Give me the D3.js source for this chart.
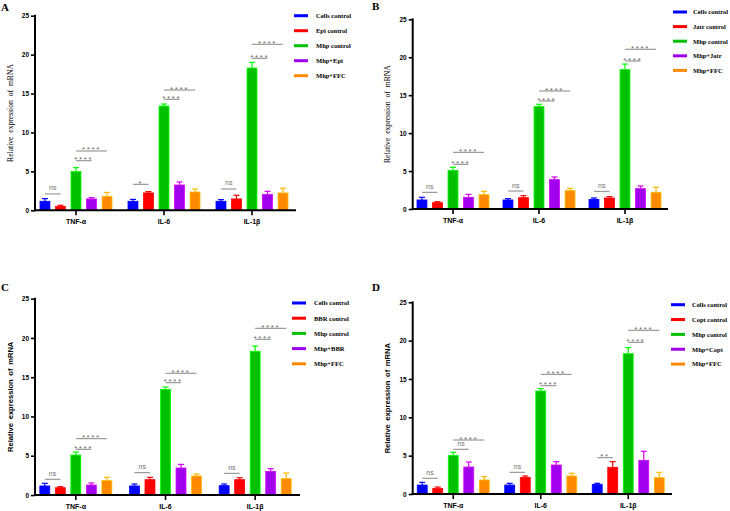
<!DOCTYPE html>
<html>
<head>
<meta charset="utf-8">
<script src="https://cdn.jsdelivr.net/npm/d3@7"></script>
<style>
  body { margin: 0; background: #fff; }
  svg { display: block; }
</style>
</head>
<body>
<svg id="chart" width="730" height="511"></svg>
<script>
// Shared categories and colours
const categories = ['TNF-α', 'IL-6', 'IL-1β'];
const colors = ['#0000ff', '#ff0000', '#00c000', '#a000ee', '#ff8a00'];
const yTicks = [0, 5, 10, 15, 20, 25];

// Panel A - Epi
const seriesA = ['Cells control', 'Epi control', 'Mhp control', 'Mhp+Epi', 'Mhp+FFC'];
const meansA = [[1.16, 0.50, 5.00, 1.46, 1.80], [1.16, 2.23, 13.40, 3.25, 2.35], [1.16, 1.46, 18.28, 2.05, 2.23]];
const errsA = [[0.34, 0.14, 0.48, 0.17, 0.50], [0.24, 0.17, 0.25, 0.39, 0.39], [0.21, 0.47, 0.72, 0.39, 0.60]];
const sigA = [
    { cat: 0, from: 0, to: 1, y: 2.1, label: 'ns' },
    { cat: 0, from: 2, to: 3, y: 6.37, label: '****' },
    { cat: 0, from: 2, to: 4, y: 7.62, label: '****' },
    { cat: 1, from: 0, to: 1, y: 3.34, label: '*' },
    { cat: 1, from: 2, to: 3, y: 14.26, label: '****' },
    { cat: 1, from: 2, to: 4, y: 15.45, label: '****' },
    { cat: 2, from: 0, to: 1, y: 2.74, label: 'ns' },
    { cat: 2, from: 2, to: 3, y: 19.53, label: '****' },
    { cat: 2, from: 2, to: 4, y: 21.33, label: '****' }
];

// Panel B - Jatr
const seriesB = ['Cells control', 'Jatr control', 'Mhp control', 'Mhp+Jatr', 'Mhp+FFC'];
const meansB = [[1.19, 0.83, 5.10, 1.54, 1.89], [1.19, 1.49, 13.49, 3.87, 2.42], [1.27, 1.45, 18.37, 2.68, 2.20]];
const errsB = [[0.35, 0.14, 0.39, 0.39, 0.44], [0.17, 0.27, 0.31, 0.35, 0.30], [0.18, 0.18, 0.73, 0.35, 0.66]];
const sigB = [
    { cat: 0, from: 0, to: 1, y: 2.2, label: 'ns' },
    { cat: 0, from: 2, to: 3, y: 5.89, label: '****' },
    { cat: 0, from: 2, to: 4, y: 7.47, label: '****' },
    { cat: 1, from: 0, to: 1, y: 2.37, label: 'ns' },
    { cat: 1, from: 2, to: 3, y: 14.23, label: '****' },
    { cat: 1, from: 2, to: 4, y: 15.55, label: '****' },
    { cat: 2, from: 0, to: 1, y: 2.33, label: 'ns' },
    { cat: 2, from: 2, to: 3, y: 19.5, label: '****' },
    { cat: 2, from: 2, to: 4, y: 21.05, label: '****' }
];

// Panel C - BBR
const seriesC = ['Cells control', 'BBR control', 'Mhp control', 'Mhp+BBR', 'Mhp+FFC'];
const meansC = [[1.15, 0.93, 5.09, 1.27, 1.83], [1.15, 1.95, 13.45, 3.44, 2.42], [1.19, 1.95, 18.30, 3.01, 2.08]];
const errsC = [[0.34, 0.13, 0.39, 0.26, 0.42], [0.25, 0.30, 0.30, 0.46, 0.25], [0.21, 0.25, 0.67, 0.34, 0.72]];
const sigC = [
    { cat: 0, from: 0, to: 1, y: 2.0, label: 'ns' },
    { cat: 0, from: 2, to: 3, y: 5.82, label: '****' },
    { cat: 0, from: 2, to: 4, y: 7.17, label: '****' },
    { cat: 1, from: 0, to: 1, y: 2.84, label: 'ns' },
    { cat: 1, from: 2, to: 3, y: 14.3, label: '****' },
    { cat: 1, from: 2, to: 4, y: 15.5, label: '****' },
    { cat: 2, from: 0, to: 1, y: 2.76, label: 'ns' },
    { cat: 2, from: 2, to: 3, y: 19.83, label: '****' },
    { cat: 2, from: 2, to: 4, y: 21.23, label: '****' }
];

// Panel D - Copt
const seriesD = ['Cells control', 'Copt control', 'Mhp control', 'Mhp+Copt', 'Mhp+FFC'];
const meansD = [[1.17, 0.74, 5.04, 3.52, 1.83], [1.17, 2.17, 13.43, 3.78, 2.35], [1.26, 3.48, 18.30, 4.39, 2.13]];
const errsD = [[0.35, 0.17, 0.39, 0.65, 0.43], [0.22, 0.18, 0.31, 0.44, 0.35], [0.13, 0.74, 0.79, 1.18, 0.70]];
const sigD = [
    { cat: 0, from: 0, to: 1, y: 2.05, label: 'ns' },
    { cat: 0, from: 2, to: 3, y: 5.83, label: 'ns' },
    { cat: 0, from: 2, to: 4, y: 7.04, label: '****' },
    { cat: 1, from: 0, to: 1, y: 2.83, label: 'ns' },
    { cat: 1, from: 2, to: 3, y: 14.12, label: '****' },
    { cat: 1, from: 2, to: 4, y: 15.61, label: '****' },
    { cat: 2, from: 0, to: 1, y: 4.73, label: '**' },
    { cat: 2, from: 2, to: 3, y: 19.78, label: '****' },
    { cat: 2, from: 2, to: 4, y: 21.35, label: '****' }
];

// Layout of the four panels (pixels)
const panels = [
    { letter: 'A', lx: 1, ly: 11, axisX: 35, x0: 32, x1: 296, yBottom: 210.3, yTop: 15.7,
      legX: 294, legY: 15.7, legStep: 15, legDx: 22, titleX: 13, serif: true,
      series: seriesA, means: meansA, errs: errsA, sigs: sigA },
    { letter: 'B', lx: 372, ly: 10, axisX: 412.7, x0: 410, x1: 668, yBottom: 209, yTop: 19.3,
      legX: 673, legY: 12, legStep: 14.6, legDx: 20, titleX: 390, serif: true,
      series: seriesB, means: meansB, errs: errsB, sigs: sigB },
    { letter: 'C', lx: 1, ly: 291, axisX: 35, x0: 31, x1: 300, yBottom: 495, yTop: 298.7,
      legX: 292, legY: 303, legStep: 15.2, legDx: 22, titleX: 13, serif: false,
      series: seriesC, means: meansC, errs: errsC, sigs: sigC },
    { letter: 'D', lx: 372, ly: 291, axisX: 412.7, x0: 409.5, x1: 672, yBottom: 494, yTop: 302.3,
      legX: 671, legY: 304.7, legStep: 14.85, legDx: 21, titleX: 390, serif: false,
      series: seriesD, means: meansD, errs: errsD, sigs: sigD }
];

const svg = d3.select('#chart');
const SANS = 'Liberation Sans, Arial, sans-serif';
const SERIF = 'Liberation Serif, Times New Roman, serif';

function drawPanel(p) {
    const g = svg.append('g');

    const x0 = d3.scaleBand().domain(categories).range([p.x0, p.x1]);
    const x1 = d3.scaleBand().domain(d3.range(p.series.length))
        .range([-36, 36]).paddingInner(0.36).paddingOuter(0);
    const y = d3.scaleLinear().domain([0, 25]).range([p.yBottom, p.yTop]);

    const barCenter = (c, i) =>
        x0(categories[c]) + x0.bandwidth() / 2 + x1(i) + x1.bandwidth() / 2;

    // Flatten for data join
    const rows = [];
    p.means.forEach((vals, c) => vals.forEach((v, i) =>
        rows.push({ c, i, v, e: p.errs[c][i] })));

    // Error bars (upper only)
    const capW = 6;
    const err = g.selectAll('.err').data(rows).enter().append('g')
        .attr('stroke', d => d3.color(colors[d.i]).brighter(0.8))
        .attr('stroke-width', 1.2);
    err.append('line')
        .attr('x1', d => barCenter(d.c, d.i)).attr('x2', d => barCenter(d.c, d.i))
        .attr('y1', d => y(d.v)).attr('y2', d => y(d.v + d.e));
    err.append('line')
        .attr('x1', d => barCenter(d.c, d.i) - capW / 2)
        .attr('x2', d => barCenter(d.c, d.i) + capW / 2)
        .attr('y1', d => y(d.v + d.e)).attr('y2', d => y(d.v + d.e));

    // Bars
    g.selectAll('.bar').data(rows).enter().append('rect')
        .attr('x', d => barCenter(d.c, d.i) - x1.bandwidth() / 2)
        .attr('width', x1.bandwidth())
        .attr('y', d => y(d.v))
        .attr('height', d => y(0) - y(d.v))
        .attr('fill', d => colors[d.i])
        .attr('stroke', d => d3.color(colors[d.i]).brighter(0.9))
        .attr('stroke-width', 0.8);

    // Significance brackets
    const sig = g.selectAll('.sig').data(p.sigs).enter().append('g');
    sig.append('line')
        .attr('x1', d => barCenter(d.cat, d.from))
        .attr('x2', d => barCenter(d.cat, d.to))
        .attr('y1', d => y(d.y)).attr('y2', d => y(d.y))
        .attr('stroke', '#777').attr('stroke-width', 0.9);
    sig.append('text')
        .attr('x', d => (barCenter(d.cat, d.from) + barCenter(d.cat, d.to)) / 2)
        .attr('y', d => d.label === 'ns' ? y(d.y) - 3.5 : y(d.y) + 1.5)
        .attr('text-anchor', 'middle')
        .attr('font-family', SANS)
        .attr('font-size', d => d.label === 'ns' ? 7 : 8)
        .attr('letter-spacing', d => d.label === 'ns' ? 0 : 1.6)
        .attr('fill', '#6e6e6e')
        .text(d => d.label);

    // Y axis
    const yAxis = g.append('g')
        .attr('transform', `translate(${p.axisX},0)`)
        .call(d3.axisLeft(y).tickValues(yTicks).tickSize(4).tickSizeOuter(0).tickPadding(2));
    yAxis.select('.domain').attr('stroke-width', 2)
        .attr('d', `M0,${y(25) - 1}V${y(0) + 1}`);
    yAxis.selectAll('.tick line').attr('stroke-width', 1.6);
    yAxis.selectAll('.tick text')
        .attr('font-family', SANS).attr('font-weight', 'bold')
        .attr('font-size', 6.5).attr('fill', '#000');

    // X axis
    const xAxis = g.append('g')
        .attr('transform', `translate(0,${y(0)})`)
        .call(d3.axisBottom(x0).tickSize(5).tickSizeOuter(0).tickPadding(4));
    xAxis.select('.domain').attr('stroke-width', 2)
        .attr('d', `M${p.axisX - 1},0H${p.x1}`);
    xAxis.selectAll('.tick line').attr('stroke-width', 1.6);
    xAxis.selectAll('.tick text')
        .attr('font-family', SANS).attr('font-weight', 'bold')
        .attr('font-size', 7).attr('fill', '#000');

    // Y axis title
    g.append('text')
        .attr('transform', `translate(${p.titleX},${(y(0) + y(25)) / 2}) rotate(-90)`)
        .attr('text-anchor', 'middle')
        .attr('font-family', p.serif ? SERIF : SANS)
        .attr('font-size', 7.6)
        .attr('font-weight', p.serif ? 'normal' : 'bold')
        .attr('word-spacing', p.serif ? 2 : 1.5)
        .text('Relative expression of mRNA');

    // Panel letter
    g.append('text')
        .attr('x', p.lx).attr('y', p.ly)
        .attr('font-family', SERIF).attr('font-weight', 'bold')
        .attr('font-size', 11)
        .text(p.letter);

    // Legend
    const leg = g.selectAll('.leg').data(p.series).enter().append('g')
        .attr('transform', (d, i) => `translate(${p.legX},${p.legY + i * p.legStep})`);
    leg.append('line')
        .attr('x1', 0).attr('x2', 14).attr('y1', 0).attr('y2', 0)
        .attr('stroke', (d, i) => colors[i]).attr('stroke-width', 3);
    leg.append('text')
        .attr('x', p.legDx).attr('y', 2.3)
        .attr('font-family', SERIF).attr('font-weight', 'bold')
        .attr('font-size', 6.5)
        .text(d => d);
}

panels.forEach(drawPanel);
</script>
</body>
</html>
